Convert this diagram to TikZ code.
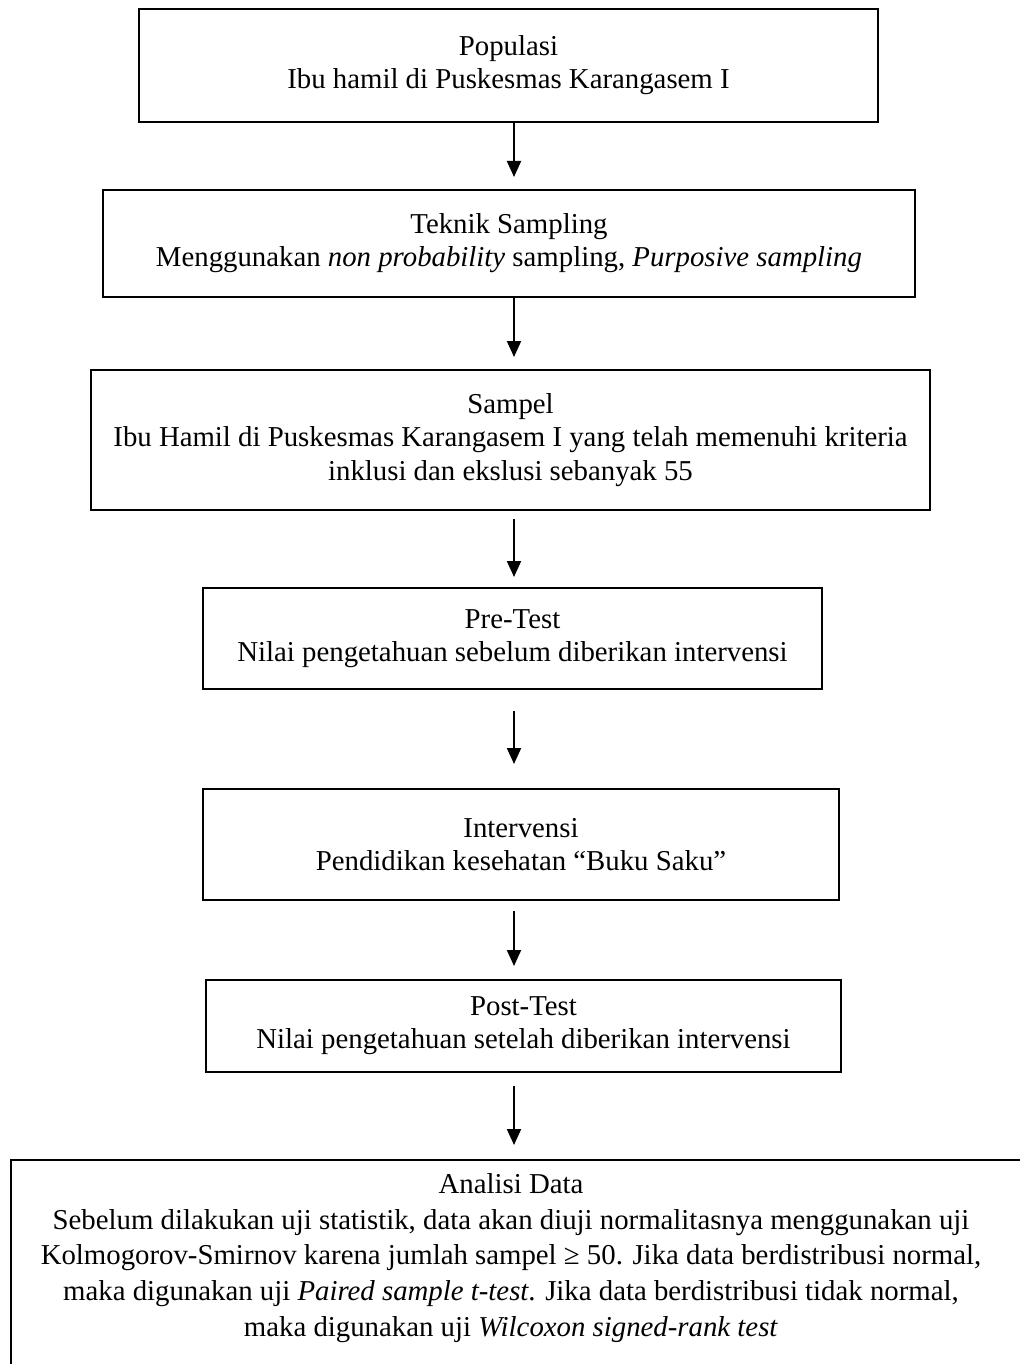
\documentclass[tikz,border=0pt]{standalone}
\usepackage{fontspec}
\setmainfont{Liberation Serif}
\usetikzlibrary{arrows.meta}
\begin{document}
\begin{tikzpicture}[x=0.5pt,y=-0.5pt,
  box/.style={draw,line width=1pt,align=center,inner sep=0pt,font=\fontsize{14.4}{16.6}\selectfont},
  txt/.style={align=center,inner sep=0pt,font=\fontsize{14.4}{17.8}\selectfont},
  arr/.style={line width=1pt,-{Triangle[length=8pt,width=7pt]}}]
\useasboundingbox (0,0) rectangle (1020,1364);
\clip (0,0) rectangle (1020,1364);
\fill[white] (0,0) rectangle (1020,1364);
\coordinate (ax) at (514,0);
\node[box,minimum width=369.5pt,minimum height=56.5pt] (b1) at (508.5,65.5)
  {Populasi\\Ibu hamil di Puskesmas Karangasem I};
\node[box,minimum width=406pt,minimum height=53.5pt] (b2) at (509,243.5)
  {Teknik Sampling\\Menggunakan \textit{non probability} sampling, \textit{Purposive sampling}};
\node[box,minimum width=419.5pt,minimum height=70pt] (b3) at (510.5,440)
  {Sampel\\Ibu Hamil di Puskesmas Karangasem I yang telah memenuhi kriteria\\inklusi dan ekslusi sebanyak 55};
\node[box,minimum width=309.5pt,minimum height=50.5pt] (b4) at (512.5,638.5)
  {Pre-Test\\Nilai pengetahuan sebelum diberikan intervensi};
\node[box,minimum width=318pt,minimum height=55.5pt] (b5) at (521,844.5)
  {Intervensi\\Pendidikan kesehatan “Buku Saku”};
\node[box,minimum width=317.5pt,minimum height=46pt] (b6) at (523.5,1026)
  {Post-Test\\Nilai pengetahuan setelah diberikan intervensi};
\node[txt] (b7) at (511,1258)
  {Analisi Data\\Sebelum dilakukan uji statistik, data akan diuji normalitasnya menggunakan uji\\Kolmogorov-Smirnov karena jumlah sampel ≥ 50. Jika data berdistribusi normal,\\maka digunakan uji \textit{Paired sample t-test}. Jika data berdistribusi tidak normal,\\maka digunakan uji \textit{Wilcoxon signed-rank test}};
\coordinate (b7top) at (514,1160);
\draw[line width=1pt] (11,1420) -- (11,1160) -- (1060,1160);
\draw[arr,shorten >=6pt] (b1.south -| ax) -- (b2.north -| ax);
\draw[arr,shorten >=6pt] (b2.south -| ax) -- (b3.north -| ax);
\draw[arr,shorten <=4pt,shorten >=5pt] (b3.south -| ax) -- (b4.north -| ax);
\draw[arr,shorten <=10.5pt,shorten >=12pt] (b4.south -| ax) -- (b5.north -| ax);
\draw[arr,shorten <=5pt,shorten >=6.5pt] (b5.south -| ax) -- (b6.north -| ax);
\draw[arr,shorten <=6.5pt,shorten >=7.5pt] (b6.south -| ax) -- (b7top);
\end{tikzpicture}
\end{document}
